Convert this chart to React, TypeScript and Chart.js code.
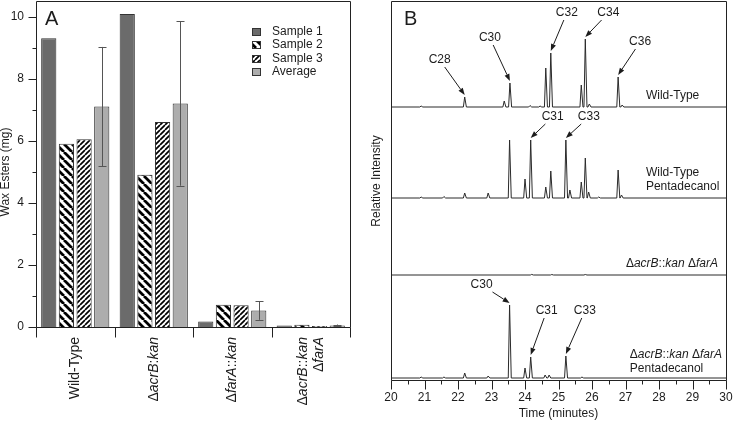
import React, { useEffect, useRef } from 'react';
import { Chart, registerables } from 'chart.js';

Chart.register(...registerables);

const FONT_FAMILY = '"Liberation Sans", Arial, Helvetica, sans-serif';
const INK = '#1c1c1c';

// ---------------- Panel A : wax ester yield ----------------
const strains: (string | string[])[] = ['Wild-Type', 'ΔacrB:kan', 'ΔfarA::kan', ['ΔacrB::kan', 'ΔfarA']];
const seriesNames = ['Sample 1', 'Sample 2', 'Sample 3', 'Average'];
const sample1 = [9.3, 10.08, 0.18, 0.05];
const sample2 = [5.9, 4.9, 0.72, 0.07];
const sample3 = [6.05, 6.6, 0.7, 0.03];
const average = [7.1, 7.2, 0.53, 0.05];
const averageError = [1.92, 2.65, 0.3, 0.03];
const waxMajorTicks = [0, 2, 4, 6, 8, 10];
const waxMinorTicks = [1, 3, 5, 7, 9];

// ---------------- Panel B : GC chromatograms ----------------
const timeMajorTicks = [20, 21, 22, 23, 24, 25, 26, 27, 28, 29, 30];
const timeMinorTicks = [20.5, 21.5, 22.5, 23.5, 24.5, 25.5, 26.5, 27.5, 28.5, 29.5];
const traceNames = [
  ['Wild-Type'],
  ['Wild-Type', 'Pentadecanol'],
  ['ΔacrB::kan ΔfarA'],
  ['ΔacrB::kan ΔfarA', 'Pentadecanol'],
];
const traceBaselines = [273, 182, 105, 2];

const wtPeakTimes = [20.9, 22.2, 23.38, 23.55, 24.15, 24.45, 24.62, 24.77, 25.68, 25.8, 25.92, 26.78, 26.9];
const wtPeakHeights = [1, 10, 6, 24, 1.5, 1, 39, 54, 22, 68, 3, 30, 2];

const wtPdPeakTimes = [20.9, 21.58, 22.2, 22.9, 23.54, 24.0, 24.17, 24.62, 24.77, 25.22, 25.34, 25.68, 25.8, 25.9, 26.2, 26.78, 26.88];
const wtPdPeakHeights = [1, 1.5, 5, 5, 58, 19, 58, 11, 27, 58, 8, 16, 40, 6, 1, 28, 3];

const dkoPeakTimes = [24.2, 24.8, 25.8];
const dkoPeakHeights = [0.6, 0.5, 0.5];

const dkoPdPeakTimes = [20.9, 21.58, 22.2, 22.9, 23.54, 24.0, 24.17, 24.6, 24.72, 25.22, 25.7];
const dkoPdPeakHeights = [1, 1, 5, 2, 73, 10, 21, 3, 3, 22, 1];

const peakLabelNames = ['C28', 'C30', 'C32', 'C34', 'C36', 'C31', 'C33', 'C30', 'C31', 'C33'];
const peakLabelTraces = [0, 0, 0, 0, 0, 1, 1, 3, 3, 3];
const peakLabelTimes = [22.2, 23.55, 24.77, 25.8, 26.78, 24.17, 25.22, 23.54, 24.17, 25.22];

// label placement (pixel offsets from the peak apex)
const peakLabelOffsets = [
  [-25, -37], [-20, -45], [16, -40], [23, -26], [22, -35],
  [22, -23], [23, -23],
  [-28, -20], [16, -46], [19, -45],
];
// trace name placement: [time anchor, align, pixel heights above baseline per line]
const traceNameLayout: { t: number; align: CanvasTextAlign; dys: number[] }[] = [
  { t: 27.61, align: 'left', dys: [11] },
  { t: 27.61, align: 'left', dys: [25, 11] },
  { t: 29.76, align: 'right', dys: [11] },
  { t: 27.13, align: 'left', dys: [23, 9] },
];

const PEAK_HALF_WIDTH = 0.04;
const PEAK_TAIL = 0.05;

const traces = [
  { times: wtPeakTimes, heights: wtPeakHeights },
  { times: wtPdPeakTimes, heights: wtPdPeakHeights },
  { times: dkoPeakTimes, heights: dkoPeakHeights },
  { times: dkoPdPeakTimes, heights: dkoPdPeakHeights },
];

function buildTrace(baseline: number, times: number[], heights: number[]) {
  const pts: { x: number; y: number }[] = [{ x: 20, y: baseline }];
  times.forEach((t, i) => {
    pts.push({ x: t - PEAK_HALF_WIDTH, y: baseline });
    pts.push({ x: t, y: baseline + heights[i] });
    pts.push({ x: t + PEAK_TAIL, y: baseline });
  });
  pts.push({ x: 30, y: baseline });
  return pts;
}

// ---------------- helpers ----------------
function fontStr(size: number, italic = false) {
  return `${italic ? 'italic ' : ''}${size}px ${FONT_FAMILY}`;
}

function richSegments(text: string) {
  return text
    .split(/(acrB|farA|kan)/)
    .filter((p) => p.length > 0)
    .map((p) => ({ text: p, italic: /^(acrB|farA|kan)$/.test(p) }));
}

function drawRich(ctx: CanvasRenderingContext2D, text: string, x: number, y: number, size: number, align: CanvasTextAlign) {
  const segs = richSegments(text);
  const widths = segs.map((s) => {
    ctx.font = fontStr(size, s.italic);
    return ctx.measureText(s.text).width;
  });
  const total = widths.reduce((a, b) => a + b, 0);
  let cur = align === 'left' ? x : align === 'right' ? x - total : x - total / 2;
  ctx.textAlign = 'left';
  segs.forEach((s, i) => {
    ctx.font = fontStr(size, s.italic);
    ctx.fillText(s.text, cur, y);
    cur += widths[i];
  });
  return total;
}

function makeStripes(size: number, lw: number, dir: 'back' | 'fwd') {
  const c = document.createElement('canvas');
  c.width = size;
  c.height = size;
  const g = c.getContext('2d')!;
  g.fillStyle = '#ffffff';
  g.fillRect(0, 0, size, size);
  g.strokeStyle = '#000000';
  g.lineWidth = lw;
  g.beginPath();
  for (let k = -1; k <= 1; k++) {
    if (dir === 'fwd') {
      g.moveTo(k * size, size);
      g.lineTo(k * size + size, 0);
    } else {
      g.moveTo(k * size, 0);
      g.lineTo(k * size + size, size);
    }
  }
  g.stroke();
  return g.createPattern(c, 'repeat') as CanvasPattern;
}

const px = (v: number) => Math.round(v) + 0.5;

// ---------------- Panel A plugin ----------------
const panelAPlugin = {
  id: 'panelA',
  afterDraw(chart: any) {
    const { ctx, chartArea: ca, scales } = chart;
    const xs = scales.x;
    const ys = scales.y;
    ctx.save();

    // error bars on the average
    const meta = chart.getDatasetMeta(3);
    ctx.strokeStyle = '#555';
    ctx.lineWidth = 1;
    meta.data.forEach((el: any, i: number) => {
      const cx = px(el.x);
      const top = ys.getPixelForValue(average[i] + averageError[i]);
      const bot = ys.getPixelForValue(average[i] - averageError[i]);
      ctx.beginPath();
      ctx.moveTo(cx, top);
      ctx.lineTo(cx, bot);
      ctx.moveTo(cx - 4, px(top));
      ctx.lineTo(cx + 4, px(top));
      ctx.moveTo(cx - 4, px(bot));
      ctx.lineTo(cx + 4, px(bot));
      ctx.stroke();
    });

    // frame
    ctx.strokeStyle = '#222';
    ctx.lineWidth = 1;
    const L = px(ca.left), R = px(ca.right), T = px(ca.top), B = px(ca.bottom);
    ctx.beginPath();
    ctx.moveTo(L, B);
    ctx.lineTo(L, T);
    ctx.lineTo(R, T);
    ctx.lineTo(R, B);
    ctx.lineTo(L, B);
    ctx.stroke();

    // y ticks
    ctx.beginPath();
    waxMajorTicks.forEach((v) => {
      const y = px(ys.getPixelForValue(v));
      ctx.moveTo(L, y);
      ctx.lineTo(L - 8, y);
    });
    waxMinorTicks.forEach((v) => {
      const y = px(ys.getPixelForValue(v));
      ctx.moveTo(L, y);
      ctx.lineTo(L - 4, y);
    });
    // x category separators
    const n = strains.length;
    const cw = (ca.right - ca.left) / n;
    for (let k = 0; k <= n; k++) {
      const x = px(ca.left + k * cw);
      ctx.moveTo(x, B);
      ctx.lineTo(x, B + 10);
    }
    ctx.stroke();

    // y tick labels
    ctx.fillStyle = INK;
    ctx.font = fontStr(12);
    ctx.textAlign = 'right';
    ctx.textBaseline = 'middle';
    waxMajorTicks.forEach((v) => {
      ctx.fillText(String(v), ca.left - 12, ys.getPixelForValue(v));
    });

    // x category labels (rotated)
    ctx.textBaseline = 'middle';
    strains.forEach((lab, i) => {
      const lines = Array.isArray(lab) ? lab : [lab];
      const cx = xs.getPixelForValue(i);
      lines.forEach((line, j) => {
        const off = (j - (lines.length - 1) / 2) * 16;
        ctx.save();
        ctx.translate(cx + off, ca.bottom + 10);
        ctx.rotate(-Math.PI / 2);
        drawRich(ctx, line, 0, 0, 14, 'right');
        ctx.restore();
      });
    });

    // y title
    ctx.save();
    ctx.translate(6, ca.top + 171);
    ctx.rotate(-Math.PI / 2);
    ctx.font = fontStr(12);
    ctx.textAlign = 'center';
    ctx.fillText('Wax Esters (mg)', 0, 0);
    ctx.restore();

    // panel letter
    ctx.font = fontStr(20);
    ctx.textAlign = 'left';
    ctx.fillText('A', ca.left + 9, ca.top + 18);

    // legend
    const lx = ca.right - 98;
    const ly0 = ca.top + 31;
    chart.data.datasets.forEach((ds: any, i: number) => {
      const y = Math.round(ly0 + i * 13.3);
      ctx.fillStyle = ds.backgroundColor;
      ctx.fillRect(lx, y - 4, 9, 8);
      ctx.strokeStyle = '#333';
      ctx.strokeRect(lx + 0.5, y - 3.5, 8, 7);
      ctx.fillStyle = INK;
      ctx.font = fontStr(12);
      ctx.textAlign = 'left';
      ctx.textBaseline = 'middle';
      ctx.fillText(ds.label, lx + 20, y);
    });

    ctx.restore();
  },
};

// ---------------- Panel B plugin ----------------
const panelBPlugin = {
  id: 'panelB',
  afterDraw(chart: any) {
    const { ctx, chartArea: ca, scales } = chart;
    const xs = scales.x;
    const ys = scales.y;
    ctx.save();
    ctx.strokeStyle = '#222';
    ctx.lineWidth = 1;
    const L = px(ca.left), R = px(ca.right), T = px(ca.top), B = px(ca.bottom);
    ctx.beginPath();
    ctx.moveTo(L, B);
    ctx.lineTo(L, T);
    ctx.lineTo(R, T);
    ctx.lineTo(R, B);
    ctx.lineTo(L, B);
    timeMajorTicks.forEach((v) => {
      const x = px(xs.getPixelForValue(v));
      ctx.moveTo(x, B);
      ctx.lineTo(x, B + 9);
    });
    timeMinorTicks.forEach((v) => {
      const x = px(xs.getPixelForValue(v));
      ctx.moveTo(x, B);
      ctx.lineTo(x, B + 4);
    });
    ctx.stroke();

    ctx.fillStyle = INK;
    ctx.font = fontStr(12);
    ctx.textAlign = 'center';
    ctx.textBaseline = 'middle';
    timeMajorTicks.forEach((v) => {
      ctx.fillText(String(v), xs.getPixelForValue(v), ca.bottom + 18);
    });
    ctx.fillText('Time (minutes)', (ca.left + ca.right) / 2, ca.bottom + 34);

    ctx.save();
    ctx.translate(ca.left - 14, ca.top + 180);
    ctx.rotate(-Math.PI / 2);
    ctx.fillText('Relative Intensity', 0, 0);
    ctx.restore();

    ctx.font = fontStr(20);
    ctx.textAlign = 'left';
    ctx.fillText('B', ca.left + 13, ca.top + 18);

    // trace names
    ctx.textBaseline = 'middle';
    traceNames.forEach((lines, i) => {
      const lay = traceNameLayout[i];
      const x = xs.getPixelForValue(lay.t);
      const base = ys.getPixelForValue(traceBaselines[i]);
      lines.forEach((line, j) => {
        drawRich(ctx, line, x, base - lay.dys[j], 12, lay.align);
      });
    });

    // peak annotations with arrows
    peakLabelNames.forEach((name, k) => {
      const tr = peakLabelTraces[k];
      const t = peakLabelTimes[k];
      const idx = traces[tr].times.indexOf(t);
      const h = idx >= 0 ? traces[tr].heights[idx] : 0;
      const ax = xs.getPixelForValue(t);
      const ay = ys.getPixelForValue(traceBaselines[tr] + h);
      const [dx, dy] = peakLabelOffsets[k];
      const lx = ax + dx;
      const ly = ay + dy;
      ctx.font = fontStr(12);
      ctx.fillStyle = INK;
      ctx.textAlign = 'center';
      ctx.textBaseline = 'middle';
      ctx.fillText(name, lx, ly);
      const tw = ctx.measureText(name).width;
      const ex = ax, ey = ay - 2;
      let vx = ex - lx, vy = ey - ly;
      const len = Math.hypot(vx, vy);
      vx /= len;
      vy /= len;
      const hw = tw / 2 + 1, hh = 7;
      const s = Math.min(Math.abs(vx) > 1e-6 ? hw / Math.abs(vx) : 1e9, Math.abs(vy) > 1e-6 ? hh / Math.abs(vy) : 1e9);
      const sx = lx + vx * s, sy = ly + vy * s;
      const headLen = 7, headW = 2.6;
      const bx = ex - vx * headLen, by = ey - vy * headLen;
      ctx.strokeStyle = INK;
      ctx.lineWidth = 1;
      ctx.beginPath();
      ctx.moveTo(sx, sy);
      ctx.lineTo(bx, by);
      ctx.stroke();
      ctx.beginPath();
      ctx.moveTo(ex, ey);
      ctx.lineTo(bx - vy * headW, by + vx * headW);
      ctx.lineTo(bx + vy * headW, by - vx * headW);
      ctx.closePath();
      ctx.fill();
    });

    ctx.restore();
  },
};

export default function App() {
  const refA = useRef<HTMLCanvasElement | null>(null);
  const refB = useRef<HTMLCanvasElement | null>(null);

  useEffect(() => {
    if (!refA.current || !refB.current) return;
    const stripes2 = makeStripes(8, 2.8, 'back');
    const stripes3 = makeStripes(5, 1.7, 'fwd');
    const fills: any[] = ['#6b6b6b', stripes2, stripes3, '#adadad'];
    const seriesValues = [sample1, sample2, sample3, average];

    const chartA = new Chart(refA.current, {
      type: 'bar',
      data: {
        labels: strains as any,
        datasets: seriesNames.map((name, i) => ({
          label: name,
          data: seriesValues[i],
          backgroundColor: fills[i],
          borderColor: '#333',
          borderWidth: 1,
          categoryPercentage: 0.9,
          barPercentage: 0.86,
        })),
      },
      options: {
        responsive: false,
        animation: false,
        events: [],
        layout: { padding: { left: 0, top: 1, right: 16, bottom: 0 } },
        plugins: { legend: { display: false }, tooltip: { enabled: false } },
        scales: {
          x: {
            display: true,
            grid: { display: false },
            border: { display: false },
            ticks: { display: false },
            afterFit: (s: any) => {
              s.height = 97;
            },
          },
          y: {
            min: 0,
            max: 10.5,
            display: true,
            grid: { display: false },
            border: { display: false },
            ticks: { display: false },
            afterFit: (s: any) => {
              s.width = 36;
            },
          },
        },
      },
      plugins: [panelAPlugin],
    } as any);

    const chartB = new Chart(refB.current, {
      type: 'line',
      data: {
        datasets: traces.map((tr, i) => ({
          label: traceNames[i].join(' '),
          data: buildTrace(traceBaselines[i], tr.times, tr.heights),
          borderColor: '#2a2a2a',
          borderWidth: 1,
          pointRadius: 0,
          tension: 0,
          fill: false,
        })),
      },
      options: {
        responsive: false,
        animation: false,
        events: [],
        layout: { padding: { left: 25, top: 1, right: 7, bottom: 0 } },
        plugins: { legend: { display: false }, tooltip: { enabled: false } },
        scales: {
          x: {
            type: 'linear',
            min: 20,
            max: 30,
            display: true,
            grid: { display: false },
            border: { display: false },
            ticks: { display: false },
            afterFit: (s: any) => {
              s.height = 44;
            },
          },
          y: {
            type: 'linear',
            min: 0,
            max: 379,
            display: false,
          },
        },
      },
      plugins: [panelBPlugin],
    } as any);

    return () => {
      chartA.destroy();
      chartB.destroy();
    };
  }, []);

  return (
    <div style={{ position: 'absolute', left: 0, top: 0, width: 733, height: 424, background: '#fff' }}>
      <canvas ref={refA} width={366} height={424} style={{ position: 'absolute', left: 0, top: 0 }} />
      <canvas ref={refB} width={367} height={424} style={{ position: 'absolute', left: 366, top: 0 }} />
    </div>
  );
}
